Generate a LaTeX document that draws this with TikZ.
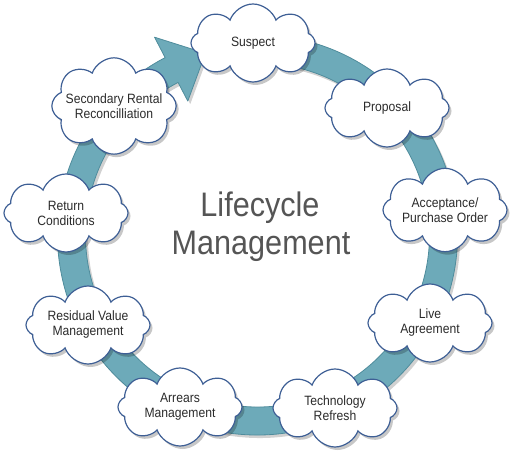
\documentclass[tikz,border=0pt]{standalone}
\usepackage{fontspec}
\setmainfont{Liberation Sans}[FakeStretch=0.9]
\usetikzlibrary{shapes.symbols,shadows}
\definecolor{ringcol}{HTML}{6DAAB9}
\definecolor{ringedge}{HTML}{4F8C9C}
\definecolor{cloudedge}{HTML}{3E5F95}
\definecolor{txt}{HTML}{2B2B2B}
\definecolor{bigtxt}{HTML}{555555}
\begin{document}
\begin{tikzpicture}[x=1pt,y=1pt,
  stage/.style={cloud, cloud puffs=8, cloud puff arc=140, aspect=1.6,
    draw=cloudedge, line width=1.2pt, fill=white,
    minimum width=124pt, minimum height=78pt, inner xsep=-8pt, inner ysep=-2pt,
    align=center, text=txt, font=\fontsize{13.5}{15}\selectfont,
    drop shadow={shadow xshift=2.5pt, shadow yshift=-3pt, opacity=0.22, fill=black}},
  bigtitle/.style={text=bigtxt, font=\fontsize{34}{38}\selectfont, anchor=base, inner sep=0pt}
]
\useasboundingbox (0,0) rectangle (510,457);
\def\ringpath{(100:200) arc[start angle=100, end angle=-242.5, radius=200]
  -- (-242.5:223) -- (-254:189) -- (-242.5:151) -- (-242.5:172)
  arc[start angle=-242.5, end angle=100, radius=172] -- cycle}
\begin{scope}[shift={(257.5,222)}]
  \fill[black, opacity=0.18, shift={(2.5,-3)}] \ringpath;
  \fill[ringcol, draw=ringedge, line width=0.8pt, line join=round] \ringpath;
\end{scope}
\node[stage] (suspect)   at (253,414) {Suspect};
\node[stage] (proposal)  at (387,349) {Proposal};
\node[stage] (accept)    at (445,247) {Acceptance/\\Purchase Order};
\node[stage] (live)      at (430,134) {Live\\Agreement};
\node[stage] (tech)      at (335,49)  {Technology\\Refresh};
\node[stage] (arrears)   at (180,50)  {Arrears\\Management};
\node[stage] (residual)  at (88,132)  {Residual Value\\Management};
\node[stage] (ret)       at (66,244)  {Return\\Conditions};
\node[stage] (secondary) at (114,351) {Secondary Rental\\Reconcilliation};
\node[bigtitle] (t1) at (260,240) {Lifecycle};
\node[bigtitle] (t2) at (261,202) {Management};
\end{tikzpicture}
\end{document}
